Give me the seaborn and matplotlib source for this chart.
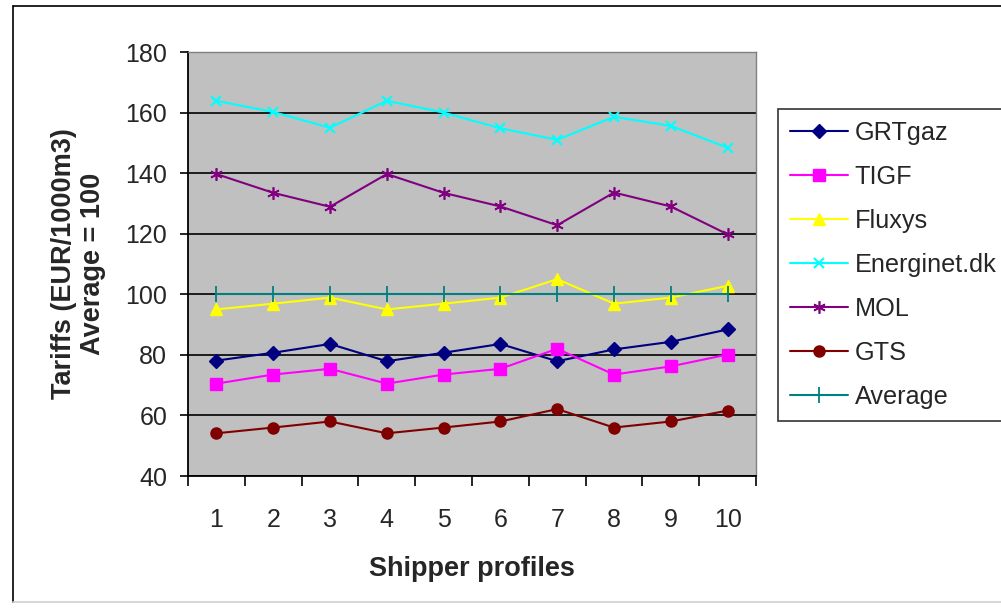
import matplotlib
matplotlib.use("Agg")
import matplotlib.pyplot as plt
import seaborn as sns
import numpy as np
from matplotlib.lines import Line2D
from matplotlib.ticker import FixedLocator, NullFormatter, FixedFormatter

# ---- data ----
profiles = [1, 2, 3, 4, 5, 6, 7, 8, 9, 10]
grtgaz = [78.1, 80.7, 83.6, 77.9, 80.7, 83.6, 77.9, 81.8, 84.3, 88.4]
tigf = [70.5, 73.5, 75.4, 70.5, 73.5, 75.4, 82.0, 73.5, 76.2, 80.1]
fluxys = [95.0, 96.9, 98.9, 95.0, 96.9, 98.9, 105.0, 96.9, 98.9, 102.8]
energinet = [163.9, 160.2, 155.0, 163.9, 160.0, 154.8, 151.0, 158.6, 155.6, 148.4]
mol = [139.7, 133.5, 128.9, 139.7, 133.5, 129.0, 122.8, 133.6, 129.0, 119.8]
gts = [54.1, 56.0, 58.0, 54.1, 56.0, 58.0, 62.1, 56.0, 58.0, 61.6]
average = [100, 100, 100, 100, 100, 100, 100, 100, 100, 100]

series_names = ["GRTgaz", "TIGF", "Fluxys", "Energinet.dk", "MOL", "GTS", "Average"]
series_values = [grtgaz, tigf, fluxys, energinet, mol, gts, average]
y_ticks = [40, 60, 80, 100, 120, 140, 160, 180]
x_label = "Shipper profiles"
y_label = "Tariffs (EUR/1000m3)\nAverage = 100"

# ---- styles ----
colors = ["#000080", "#FF00FF", "#FFFF00", "#00FFFF", "#800080", "#800000", "#008080"]
markers = ["D", "s", "^", "x", (6, 2, 0), "o", "|"]
msizes = [7, 8, 8, 7, 9, 8, 12]
mews = [1, 1, 1, 1.5, 1.2, 1, 1.3]

sns.set_style("white")
plt.rcParams["font.family"] = ["Liberation Sans", "DejaVu Sans"]

fig = plt.figure(figsize=(10.01, 6.08), dpi=100)
ax = fig.add_axes([188 / 1001, 1 - 476 / 608, (756 - 188) / 1001, (476 - 52) / 608])
ax.set_facecolor("#C0C0C0")

for name, vals, c, m, ms, mw in zip(series_names, series_values, colors, markers, msizes, mews):
    sns.lineplot(x=profiles, y=vals, ax=ax, color=c, marker=m, markersize=ms,
                 markeredgecolor=c, markerfacecolor=c, markeredgewidth=mw,
                 linewidth=1.5, label=name, legend=False)

ax.set_xlim(0.5, 10.5)
ax.set_ylim(40, 180)
ax.set_yticks(y_ticks)
ax.set_yticklabels([str(t) for t in y_ticks])
ax.yaxis.grid(True, color="black", linewidth=1.2)
ax.set_axisbelow(True)
ax.get_ygridlines()[-1].set_visible(False)

# category axis: ticks at boundaries, labels centered
ax.xaxis.set_major_locator(FixedLocator(np.arange(0.5, 11, 1.0)))
ax.xaxis.set_major_formatter(NullFormatter())
ax.xaxis.set_minor_locator(FixedLocator(profiles))
ax.xaxis.set_minor_formatter(FixedFormatter([str(p) for p in profiles]))
ax.tick_params(axis="x", which="major", direction="out", length=7, width=1.2,
               color="black", bottom=True)
ax.tick_params(axis="x", which="minor", length=0, pad=23, labelsize=18, bottom=True)
ax.tick_params(axis="y", which="major", direction="out", length=6, width=1.2,
               color="black", pad=9, labelsize=18, left=True)

for s in ["left", "bottom"]:
    ax.spines[s].set_color("black")
    ax.spines[s].set_linewidth(1.3)
for s in ["top", "right"]:
    ax.spines[s].set_color("#808080")
    ax.spines[s].set_linewidth(1.0)

ax.set_xlabel(x_label, fontsize=19.5, fontweight="bold", labelpad=17)
ax.set_ylabel(y_label, fontsize=19.5, fontweight="bold", linespacing=1.12)
ax.yaxis.set_label_coords(-0.145, 0.5)

handles, labels = ax.get_legend_handles_labels()
leg = fig.legend(handles, labels, loc="upper left",
                 bbox_to_anchor=(778 / 1001, 1 - 109 / 608), borderaxespad=0,
                 fontsize=18.2, frameon=True, fancybox=False, edgecolor="black",
                 handlelength=2.28, handletextpad=0.28, labelspacing=0.79,
                 borderpad=0.47)
leg.get_frame().set_linewidth(1.2)

# outer chart frame
x0, y0, y1 = 13 / 1001, 6 / 608, 1 - 6 / 608
fig.add_artist(Line2D([x0, x0], [y0, y1], transform=fig.transFigure, color="black", lw=1.2))
fig.add_artist(Line2D([x0, 1.0], [y1, y1], transform=fig.transFigure, color="black", lw=1.2))
fig.add_artist(Line2D([x0, 1.0], [y0, y0], transform=fig.transFigure, color="#D0D0D0", lw=1.2))

fig.savefig("out.png", dpi=100)
